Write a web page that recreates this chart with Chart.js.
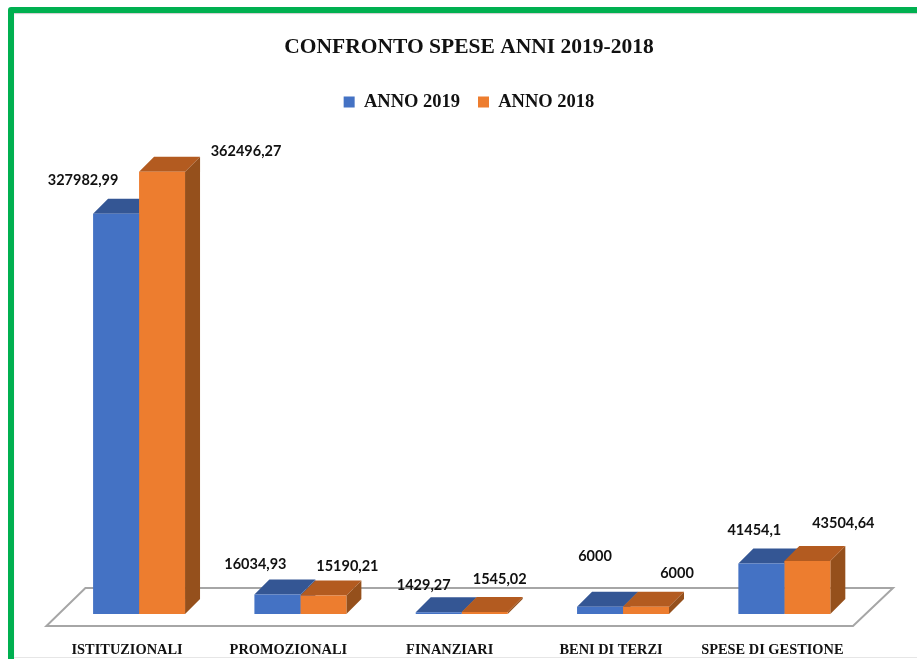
<!DOCTYPE html>
<html><head><meta charset="utf-8">
<style>
html,body{margin:0;padding:0;background:#fff;width:917px;height:659px;overflow:hidden}
#wrap{position:absolute;left:0;top:0;width:917px;height:659px}
#c{filter:blur(0.4px)}
#frame{position:absolute;left:8px;top:7px;width:920px;height:670px;border:6px solid #00b050;border-radius:3px;box-sizing:border-box;pointer-events:none;box-shadow:inset 0 1px 1px #ccc}
#foot{position:absolute;left:14px;top:657px;width:903px;height:1px;background:#e6e6e6}
</style>
<script src="https://cdn.jsdelivr.net/npm/chart.js@4"></script>
</head><body>
<div id="wrap"><canvas id="c" width="917" height="659"></canvas></div>
<div id="frame"></div>
<div id="foot"></div>
<script>
const categories = ["ISTITUZIONALI","PROMOZIONALI","FINANZIARI","BENI DI TERZI","SPESE DI GESTIONE"];
const anno2019 = [327982.99,16034.93,1429.27,6000,41454.1];
const anno2018 = [362496.27,15190.21,1545.02,6000,43504.64];
const seriesNames = ["ANNO 2019","ANNO 2018"];
const titleText = "CONFRONTO SPESE ANNI 2019-2018";

const offsets = [
  [[-33,-34],[-22,-30],[-15,-27],[-5,-50],[-7,-33]],
  [[84,-20],[24,-29],[15,-33],[31,-33],[36,-38]]
];
const topColors = ["#345694","#b35b20"];
const sideColors = ["#345694","#95501c"];
const DEPTH = 15;
const serif = '"Liberation Serif"';
const sans = 'Lato';

function poly(ctx, pts, fill){
  ctx.beginPath();
  pts.forEach((p,i)=> i? ctx.lineTo(p[0],p[1]) : ctx.moveTo(p[0],p[1]));
  ctx.closePath();
  ctx.fillStyle = fill; ctx.fill();
}
const threeD = {
  id:'threeD',
  beforeDatasetsDraw(chart){
    const {ctx, chartArea:a} = chart;
    ctx.save();
    ctx.beginPath();
    ctx.moveTo(a.left-12,a.bottom+12);
    ctx.lineTo(a.right-12,a.bottom+12);
    ctx.lineTo(a.right+28,a.bottom-26);
    ctx.lineTo(a.left+27,a.bottom-26);
    ctx.closePath();
    ctx.strokeStyle='#a6a6a6'; ctx.lineWidth=2; ctx.stroke();
    chart.data.datasets.forEach((ds,d)=>{
      chart.getDatasetMeta(d).data.forEach(b=>{
        const l=b.x-b.width/2, r=b.x+b.width/2, t=b.y, bot=b.base;
        poly(ctx,[[r,t],[r+DEPTH,t-DEPTH],[r+DEPTH,bot-DEPTH],[r,bot]],sideColors[d]);
        poly(ctx,[[l,t],[l+DEPTH,t-DEPTH],[r+DEPTH,t-DEPTH],[r,t]],topColors[d]);
      });
    });
    ctx.restore();
  },
  afterDatasetsDraw(chart){
    const {ctx} = chart;
    ctx.save();
    ctx.font = 'bold 14.5px '+sans;
    ctx.fillStyle='#111';
    ctx.textAlign='center'; ctx.textBaseline='middle';
    chart.data.datasets.forEach((ds,d)=>{
      chart.getDatasetMeta(d).data.forEach((b,i)=>{
        const txt=String(ds.data[i]).replace('.',',');
        ctx.fillText(txt,b.x+offsets[d][i][0],b.y+offsets[d][i][1]);
      });
    });
    ctx.restore();
  }
};
new Chart(document.getElementById('c'),{
  type:'bar',
  data:{labels:categories,datasets:[
    {label:seriesNames[0],data:anno2019,backgroundColor:'#4472c4'},
    {label:seriesNames[1],data:anno2018,backgroundColor:'#ed7d2f'}
  ]},
  plugins:[threeD],
  options:{
    responsive:false,animation:false,
    layout:{padding:{left:21,right:0,top:24,bottom:0}},
    categoryPercentage:0.57,barPercentage:1,
    plugins:{
      tooltip:{enabled:false},
      title:{display:true,text:titleText,color:'#111',font:{family:serif,size:21.5,weight:'bold'},padding:{top:11,bottom:14}},
      legend:{position:'top',labels:{color:'#111',boxWidth:11,boxHeight:11,padding:18,font:{family:serif,size:18.5,weight:'bold'}}}
    },
    scales:{
      x:{grid:{display:false,drawTicks:false},border:{display:false},
        ticks:{color:'#111',autoSkip:false,maxRotation:0,padding:28,labelOffset:-12,font:{family:serif,size:14.4,weight:'bold'}},
        afterFit(s){s.height=45;}},
      y:{min:0,max:403820,grid:{display:false,drawTicks:false},border:{display:false},ticks:{display:false},afterFit(s){s.width=37.4;}},
      y2:{position:'right',grid:{display:false,drawTicks:false},border:{display:false},ticks:{display:false},afterFit(s){s.width=52;}}
    }
  }
});
</script>
</body></html>
